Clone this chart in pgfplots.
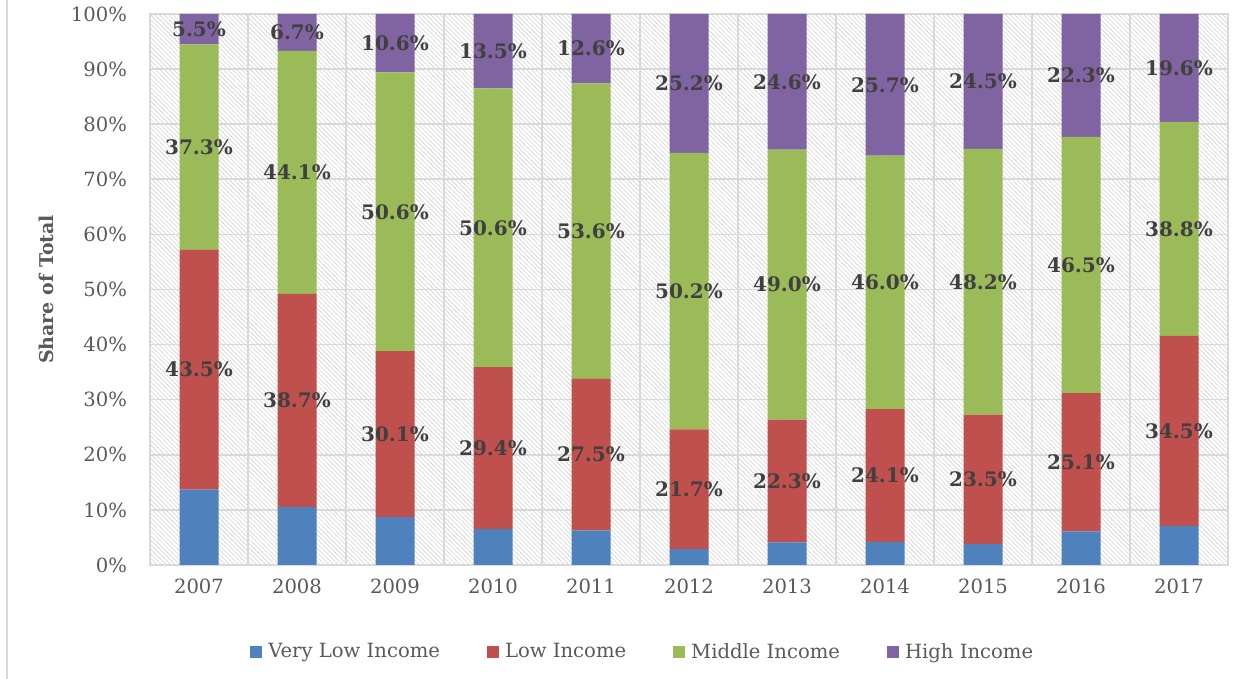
\documentclass[border=0pt]{standalone}
\usepackage{pgfplots}
\pgfplotsset{compat=1.18}
\usepackage{pgfplotstable}
\usepackage{fontspec}
\setmainfont{DejaVu Serif}
\usetikzlibrary{patterns.meta}

\definecolor{vlowc}{HTML}{4F81BD}
\definecolor{lowc}{HTML}{C0504D}
\definecolor{midc}{HTML}{9BBB59}
\definecolor{highc}{HTML}{8064A2}
\definecolor{gridc}{HTML}{D9D9D9}
\definecolor{tickc}{HTML}{595959}
\definecolor{lblc}{HTML}{404040}
\definecolor{hatchc}{HTML}{D2D2D2}

% shares of total by income group, in percent
\pgfplotstableread{
x  VL   L    M    H
0  13.7 43.5 37.3 5.5
1  10.5 38.7 44.1 6.7
2  8.7  30.1 50.6 10.6
3  6.5  29.4 50.6 13.5
4  6.3  27.5 53.6 12.6
5  2.9  21.7 50.2 25.2
6  4.1  22.3 49.0 24.6
7  4.2  24.1 46.0 25.7
8  3.8  23.5 48.2 24.5
9  6.1  25.1 46.5 22.3
10 7.1  34.5 38.8 19.6
}\shares

\begin{document}
\begin{tikzpicture}
\path[use as bounding box] (0,0) rectangle (629pt,339.5pt);
\draw[gridc, line width=0.8pt] (3.5pt,0) -- (3.5pt,339.5pt);
\begin{axis}[
  at={(75pt,57pt)}, anchor=south west,
  scale only axis, width=539pt, height=275.5pt,
  ybar stacked, bar width=19.5pt,
  xmin=-0.5, xmax=10.5, ymin=0, ymax=100,
  xtick={0,...,10},
  xticklabels={2007,2008,2009,2010,2011,2012,2013,2014,2015,2016,2017},
  minor xtick={-0.5,0.5,...,10.5},
  ytick={0,10,...,100},
  yticklabel={\pgfmathprintnumber{\tick}\%},
  /pgf/number format/assume math mode=true,
  major tick length=0pt, minor tick length=0pt,
  ymajorgrids, xminorgrids,
  grid style={gridc, line width=0.8pt},
  minor grid style={gridc, line width=0.8pt},
  axis line style={gridc, line width=0.8pt},
  axis background/.style={pattern={Lines[angle=-45,distance=1.6pt,line width=0.3pt]}, pattern color=hatchc},
  tick label style={font=\fontsize{9.8}{11}\selectfont, text=tickc},
  yticklabel style={xshift=-8pt},
  xticklabel style={yshift=-3.5pt},
  ylabel={Share of Total},
  ylabel style={at={(axis description cs:-0.0965,0.5)}, anchor=center, font=\bfseries\fontsize{9.5}{11}\selectfont, text=tickc},
  every node near coord/.append style={anchor=center, font=\bfseries\fontsize{10}{12}\selectfont, text=lblc},
  nodes near coords={\pgfmathprintnumber[fixed,fixed zerofill,precision=1]{\pgfplotspointmeta}\%},
  legend columns=-1,
  legend style={at={(axis description cs:0.458,-0.158)}, anchor=center, draw=none, fill=none,
    font=\fontsize{9.8}{11}\selectfont, text=tickc,
    /tikz/every odd column/.append style={column sep=1pt},
    /tikz/every even column/.append style={column sep=21.5pt}},
  legend image code/.code={\fill[#1] (0pt,-3pt) rectangle (6pt,3pt);},
]
\addplot[fill=vlowc, draw=none, nodes near coords=] table[x=x, y=VL]{\shares};
\addplot[fill=lowc, draw=none, point meta=explicit] table[x=x, y=L, meta=L]{\shares};
\addplot[fill=midc, draw=none, point meta=explicit] table[x=x, y=M, meta=M]{\shares};
\addplot[fill=highc, draw=none, point meta=explicit] table[x=x, y=H, meta=H]{\shares};
\legend{Very Low Income, Low Income, Middle Income, High Income}
\end{axis}
\end{tikzpicture}
\end{document}
